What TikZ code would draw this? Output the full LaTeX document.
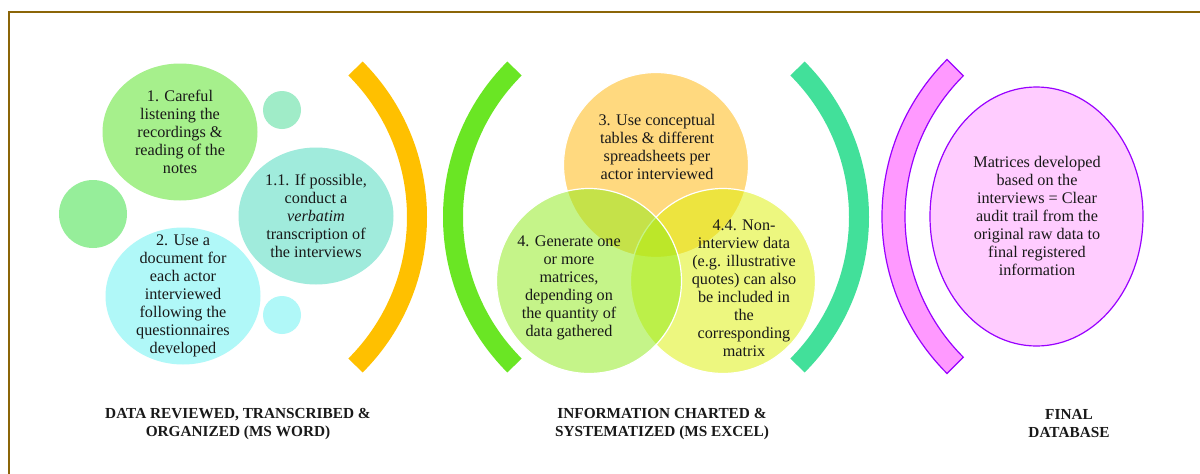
\documentclass[tikz,border=0pt]{standalone}
\usepackage{fontspec}
\setmainfont{Liberation Serif}
\usetikzlibrary{shapes.geometric,calc}
\definecolor{framecol}{RGB}{139,101,8}
\definecolor{cA}{RGB}{166,240,140}
\definecolor{cS1}{RGB}{160,236,200}
\definecolor{cM}{RGB}{150,238,154}
\definecolor{cB}{RGB}{160,235,220}
\definecolor{cC}{RGB}{176,248,248}
\definecolor{arcO}{RGB}{255,192,0}
\definecolor{arcG}{RGB}{106,230,36}
\definecolor{arcT}{RGB}{66,224,154}
\definecolor{pinkA}{RGB}{255,153,255}
\definecolor{pinkB}{RGB}{255,204,255}
\definecolor{purp}{RGB}{153,0,255}
\definecolor{v3}{RGB}{255,180,0}
\definecolor{v4}{RGB}{141,235,21}
\definecolor{v44}{RGB}{220,240,0}
\begin{document}
\begin{tikzpicture}[x=1pt,y=-1pt,
  blob/.style={ellipse, draw=none, inner sep=0pt},
  txt/.style={align=center, inner sep=0pt, text=black!90, font=\fontsize{16.2}{18}\selectfont},
  lbl/.style={align=center, inner sep=0pt, text=black!90, font=\fontsize{15.3}{18}\selectfont\bfseries},
  venn/.style={circle, minimum size=185pt, inner sep=0pt, fill opacity=0.5, draw=white, line width=1.2pt},
  brk/.style={line width=20pt, line cap=butt},
  frameline/.style={draw=framecol, line width=2pt}]
\useasboundingbox (0,0) rectangle (1200,474);
\fill[white] (0,0) rectangle (1200,474);
\draw[frameline] (9,474) -- (9,12) -- (1200,12);

% left group
\node[blob, fill=cA, minimum width=155pt, minimum height=137pt] (c1) at (180,132) {};
\node[blob, fill=cS1, minimum width=38pt, minimum height=38pt] (s1) at (282,110) {};
\node[blob, fill=cM, minimum width=68pt, minimum height=68pt] (m1) at (93,214) {};
\node[blob, fill=cB, minimum width=155pt, minimum height=137pt] (c11) at (316,216) {};
\node[blob, fill=cC, minimum width=155pt, minimum height=137pt] (c2) at (183,296) {};
\node[blob, fill=cC, minimum width=38pt, minimum height=38pt] (s2) at (282,315) {};
\node[txt] (t1) at (180,132) {1. Careful\\listening the\\recordings \&\\reading of the\\notes};
\node[txt] (t11) at (316,216) {1.1. If possible,\\conduct a\\\textit{verbatim}\\transcription of\\the interviews};
\node[txt] (t2) at (183,296) {2. Use a\\document for\\each actor\\interviewed\\following the\\questionnaires\\developed};

% brackets
\coordinate (oc) at (207,217);
\coordinate (gc) at (663,217);
\coordinate (tc) at (649,217);
\coordinate (pc) at (1104,216.5);
\draw[brk, draw=arcO] (oc) ++(-45:210) arc[start angle=-45, end angle=45, radius=210];
\draw[brk, draw=arcG] (gc) ++(135:210) arc[start angle=135, end angle=225, radius=210];
\draw[brk, draw=arcT] (tc) ++(-45:210) arc[start angle=-45, end angle=45, radius=210];
\draw[fill=pinkA, draw=purp, line width=1.2pt] ($(pc)+(135:222)$) arc[start angle=135, end angle=225, radius=222] -- ($(pc)+(225:199)$) arc[start angle=225, end angle=135, radius=199] -- cycle;

% venn
\node[venn, fill=v3] (v3) at (656,165) {};
\node[venn, fill=v44] (v44) at (723,281) {};
\node[venn, fill=v4] (v4) at (589,281) {};
\node[txt] (t3) at (657,147) {3. Use conceptual\\tables \& different\\spreadsheets per\\actor interviewed};
\node[txt] (t4) at (569,288) {4. Generate one\\or more\\matrices,\\depending on\\the quantity of\\data gathered};
\node[txt] (t44) at (744,288) {4.4. Non-\\interview data\\(e.g. illustrative\\quotes) can also\\be included in\\the\\corresponding\\matrix};

% final
\node[ellipse, fill=pinkB, draw=purp, line width=1.2pt, inner sep=0pt, minimum width=213pt, minimum height=259pt] (fe) at (1036.5,216.5) {};
\node[txt] (t5) at (1037,216) {Matrices developed\\based on the\\interviews = Clear\\audit trail from the\\original raw data to\\final registered\\information};

% labels
\node[lbl] (l1) at (238,424) {DATA REVIEWED, TRANSCRIBED \&\\ORGANIZED (MS WORD)};
\node[lbl] (l2) at (662,424) {INFORMATION CHARTED \&\\SYSTEMATIZED (MS EXCEL)};
\node[lbl] (l3) at (1069,424) {FINAL\\DATABASE};
\end{tikzpicture}
\end{document}
